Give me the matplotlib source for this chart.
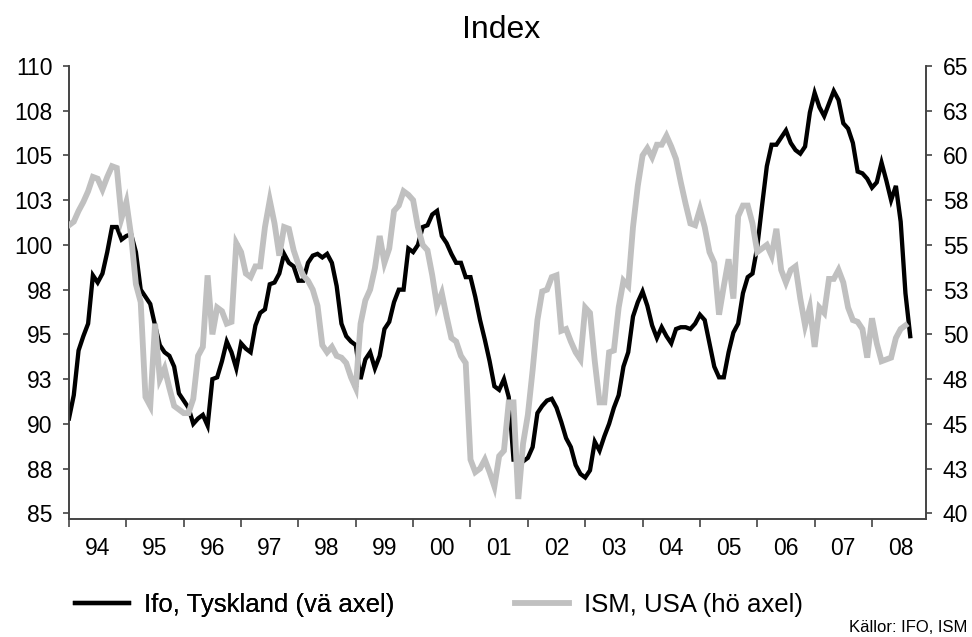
import matplotlib
matplotlib.use("Agg")
import matplotlib.pyplot as plt
from matplotlib.ticker import FixedLocator, FixedFormatter
import numpy as np

plt.rcParams['font.family'] = ['Liberation Sans', 'DejaVu Sans']

# Monthly data, Jan 1994 onwards
ifo = [90.3, 91.6, 94.1, 94.9, 95.6, 98.3, 97.9, 98.4, 99.6, 101.0, 101.0, 100.3,
       100.5, 100.6, 99.6, 97.5, 97.1, 96.7, 95.5, 94.4, 94.0, 93.8, 93.2, 91.7,
       91.3, 90.9, 90.0, 90.3, 90.5, 89.9, 92.5, 92.6, 93.5, 94.6, 94.0, 93.1,
       94.5, 94.2, 94.0, 95.5, 96.2, 96.4, 97.8, 97.9, 98.4, 99.5, 99.0, 98.8,
       98.0, 98.0, 99.0, 99.4, 99.5, 99.3, 99.5, 99.0, 97.7, 95.6, 94.9, 94.6,
       94.4, 92.5, 93.6, 94.0, 93.1, 93.8, 95.3, 95.7, 96.8, 97.5, 97.5, 99.8,
       99.6, 100.0, 101.0, 101.1, 101.7, 101.9, 100.5, 100.1, 99.5, 99.0, 99.0, 98.2,
       98.2, 97.1, 95.8, 94.7, 93.5, 92.1, 91.9, 92.5, 91.5, 88.0, 88.0, 87.9,
       88.1, 88.7, 90.6, 91.0, 91.3, 91.4, 90.9, 90.1, 89.2, 88.7, 87.7, 87.2,
       87.0, 87.4, 89.0, 88.5, 89.3, 90.0, 90.9, 91.6, 93.2, 94.0, 96.0, 96.8,
       97.4, 96.6, 95.5, 94.8, 95.4, 94.9, 94.5, 95.3, 95.4, 95.4, 95.3, 95.6,
       96.1, 95.8, 94.5, 93.2, 92.6, 92.6, 94.0, 95.1, 95.6, 97.3, 98.2, 98.4,
       99.9, 102.2, 104.4, 105.6, 105.6, 106.0, 106.4, 105.7, 105.3, 105.1, 105.5, 107.4,
       108.5, 107.7, 107.2, 107.9, 108.6, 108.1, 106.8, 106.5, 105.7, 104.1, 104.0, 103.7,
       103.2, 103.5, 104.6, 103.6, 102.5, 103.3, 101.3, 97.3, 94.9]

ism = [56.1, 56.3, 56.9, 57.4, 58.0, 58.8, 58.7, 58.1, 58.8, 59.4, 59.3, 56.5,
       57.4, 55.5, 52.8, 51.8, 46.5, 46.0, 50.6, 47.5, 48.1, 47.0, 46.0, 45.8,
       45.6, 45.6, 46.4, 48.8, 49.3, 53.3, 50.0, 51.5, 51.3, 50.6, 50.7, 55.1,
       54.6, 53.4, 53.2, 53.8, 53.8, 56.0, 57.5, 56.2, 54.4, 56.0, 55.9, 54.7,
       53.9, 53.3, 53.0, 52.5, 51.6, 49.4, 49.0, 49.3, 48.8, 48.7, 48.4, 47.6,
       47.0, 50.6, 51.9, 52.5, 53.7, 55.5, 54.0, 54.8, 56.9, 57.2, 58.0, 57.8,
       57.5, 56.0, 55.0, 54.7, 53.3, 51.6, 52.3, 51.0, 49.8, 49.6, 48.8, 48.4,
       43.0, 42.3, 42.5, 43.0, 42.3, 41.5, 43.2, 43.5, 46.2, 46.2, 40.8, 43.9,
       45.5, 48.0, 50.8, 52.4, 52.5, 53.2, 53.3, 50.2, 50.3, 49.6, 49.0, 48.6,
       51.5, 51.2, 48.5, 46.2, 46.2, 49.0, 49.1, 51.5, 53.0, 52.7, 56.0, 58.3,
       60.0, 60.4, 59.9, 60.6, 60.6, 61.1, 60.5, 59.8, 58.5, 57.3, 56.2, 56.1,
       57.0, 56.0, 54.6, 54.0, 51.1, 52.7, 54.2, 52.0, 56.6, 57.2, 57.2, 56.2,
       54.6, 54.8, 55.0, 54.4, 55.9, 53.6, 52.9, 53.6, 53.8, 52.0, 50.5, 51.5,
       49.3, 51.5, 51.2, 53.1, 53.1, 53.6, 52.9, 51.5, 50.8, 50.7, 50.3, 48.7,
       50.9, 49.5, 48.5, 48.6, 48.7, 49.8, 50.3, 50.5]

year_labels = ['94', '95', '96', '97', '98', '99', '00', '01', '02', '03',
               '04', '05', '06', '07', '08']
left_ticks = [85, 87.5, 90, 92.5, 95, 97.5, 100, 102.5, 105, 107.5, 110]
left_labels = ['85', '88', '90', '93', '95', '98', '100', '103', '105', '108', '110']
right_ticks = [40, 42.5, 45, 47.5, 50, 52.5, 55, 57.5, 60, 62.5, 65]
right_labels = ['40', '43', '45', '48', '50', '53', '55', '58', '60', '63', '65']

W, H = 972, 637
fig = plt.figure(figsize=(W / 100, H / 100), dpi=100)
ax_l, ax_r_px, ax_b, ax_t = 69, 926, 519.3, 66
ax = fig.add_axes([ax_l / W, 1 - ax_b / H, (ax_r_px - ax_l) / W, (ax_b - ax_t) / H])
ax2 = ax.twinx()

x_ifo = np.arange(len(ifo))
x_ism = np.arange(len(ism))
spine_col = '#444444'

l1, = ax.plot(x_ifo, ifo, color='black', lw=3.1, solid_joinstyle='miter', zorder=3)
l2, = ax2.plot(x_ism, ism, color='#c0c0c0', lw=4.2, solid_joinstyle='miter', zorder=3)

ymin_off = (ax_b - 513.3) / ((513.3 - 66) / 25)
ax.set_ylim(85 - ymin_off, 110)
ax2.set_ylim(40 - ymin_off, 65)
ax.set_xlim(0, 179.3)

ax.set_yticks(left_ticks)
ax.set_yticklabels(left_labels)
ax2.set_yticks(right_ticks)
ax2.set_yticklabels(right_labels)

ax.xaxis.set_major_locator(FixedLocator([12 * i for i in range(15)]))
ax.xaxis.set_major_formatter(FixedFormatter([''] * 15))
ax.xaxis.set_minor_locator(FixedLocator([12 * i + 6 for i in range(15)]))
ax.xaxis.set_minor_formatter(FixedFormatter(year_labels))
ax.tick_params(axis='x', which='major', length=6, width=1.2, color=spine_col, direction='out')
ax.tick_params(axis='x', which='minor', length=0, pad=13, labelsize=16.5)
ax.tick_params(axis='y', length=4, width=1.2, color=spine_col, pad=8, labelsize=16.5)
ax2.tick_params(axis='y', length=4, width=1.2, color=spine_col, pad=8, labelsize=16.5)

for a in (ax, ax2):
    a.spines['top'].set_visible(False)
    for s in ('left', 'right', 'bottom'):
        a.spines[s].set_color(spine_col)
        a.spines[s].set_linewidth(1.2)

fig.text(501 / W, 1 - 30 / H, 'Index', ha='center', va='center', fontsize=23)

fs_leg = 18.5
leg1 = fig.legend([l1], ['Ifo, Tyskland (vä axel)'], loc='center left',
                  bbox_to_anchor=(75 / W, 1 - 605 / H), frameon=False,
                  borderpad=0, borderaxespad=0, handlelength=2.1,
                  handletextpad=0.6, fontsize=fs_leg)
leg2 = fig.legend([l2], ['ISM, USA (hö axel)'], loc='center left',
                  bbox_to_anchor=(515 / W, 1 - 605 / H), frameon=False,
                  borderpad=0, borderaxespad=0, handlelength=2.1,
                  handletextpad=0.6, fontsize=fs_leg)
fig.add_artist(leg1)

fig.text(967 / W, 1 - 627 / H, 'Källor: IFO, ISM', ha='right', va='center', fontsize=12)

fig.savefig('out.png', dpi=100)
